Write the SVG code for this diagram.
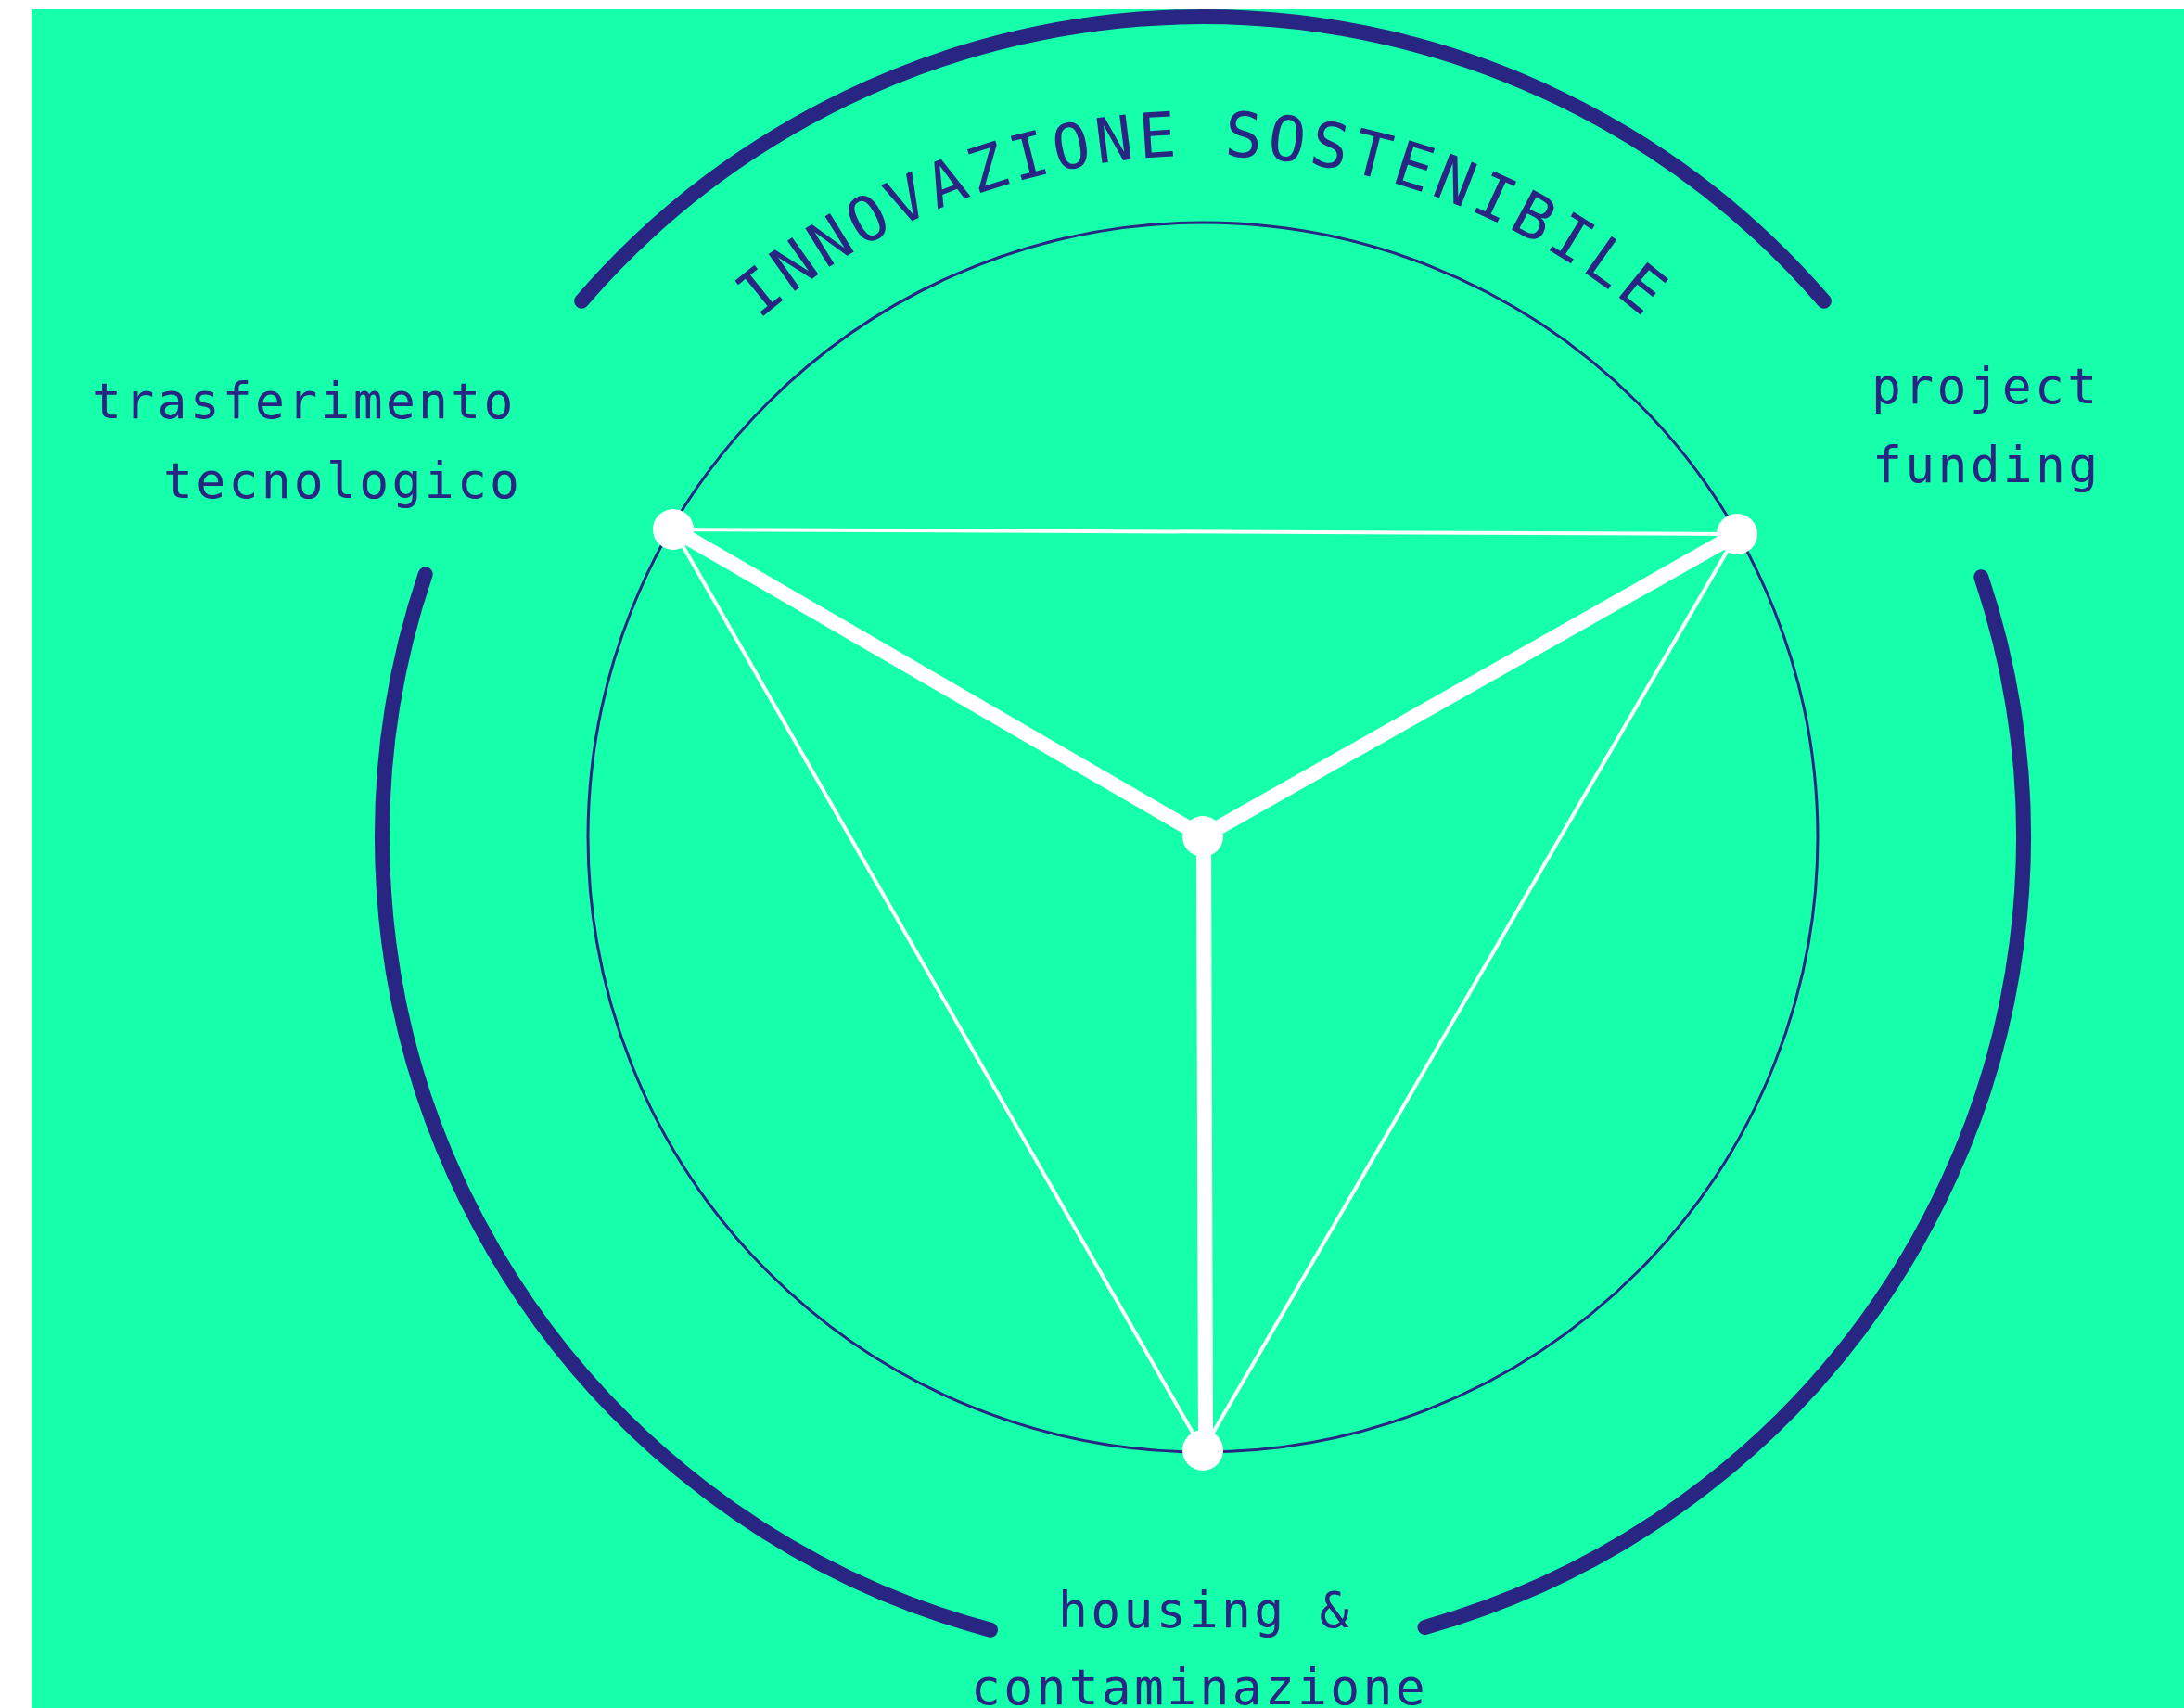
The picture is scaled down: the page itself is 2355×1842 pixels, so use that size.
<svg xmlns="http://www.w3.org/2000/svg" width="2355" height="1842" viewBox="0 0 2355 1842">
  <defs>
    <style>
      .bg { fill: #16FFAA; }
      .ring { fill: none; stroke: #292582; stroke-width: 16; stroke-linecap: round; }
      .inner { fill: none; stroke: #292582; stroke-width: 3; }
      .spoke { stroke: #FFFFFF; stroke-width: 16; stroke-linecap: round; }
      .edge { stroke: #FFFFFF; stroke-width: 4; }
      .node { fill: #FFFFFF; }
      .label { font-family: "DejaVu Sans Mono", "Liberation Mono", monospace; font-size: 53px; letter-spacing: 3.3px; fill: #292582; }
      .title { font-family: "DejaVu Sans Mono", "Liberation Mono", monospace; font-size: 67px; letter-spacing: 5px; fill: #292582; }
    </style>
    <path id="titlePath" d="M 562 903 A 735 735 0 0 1 2032 903"/>
  </defs>

  <rect class="bg" x="34" y="10" width="2321" height="1832"/>

  <g id="outer-rings">
    <path class="ring" d="M 627.1 324.7 A 885 885 0 0 1 1966.9 324.7"/>
    <path class="ring" d="M 1068 1757.8 A 885 885 0 0 1 458.7 619.3"/>
    <path class="ring" d="M 2136.3 622.2 A 885 885 0 0 1 1536.5 1755"/>
  </g>

  <circle class="inner" cx="1297" cy="903" r="663"/>

  <text class="title"><textPath href="#titlePath" startOffset="50%" text-anchor="middle">INNOVAZIONE SOSTENIBILE</textPath></text>

  <g id="connectors">
    <line class="edge" x1="726" y1="571" x2="1873" y2="576"/>
    <line class="edge" x1="726" y1="571" x2="1297" y2="1564"/>
    <line class="edge" x1="1873" y1="576" x2="1297" y2="1564"/>
    <line class="spoke" x1="1297" y1="902" x2="726" y2="571"/>
    <line class="spoke" x1="1297" y1="902" x2="1873" y2="576"/>
    <line class="spoke" x1="1298" y1="902" x2="1300" y2="1564"/>
  </g>

  <g id="node-center"><circle class="node" cx="1297" cy="902" r="22"/></g>
  <g id="node-left"><circle class="node" cx="726" cy="571" r="22"/></g>
  <g id="node-right"><circle class="node" cx="1873" cy="576" r="22"/></g>
  <g id="node-bottom"><circle class="node" cx="1297" cy="1564" r="22"/></g>

  <g id="label-left">
    <text class="label" x="99" y="451">trasferimento</text>
    <text class="label" x="176" y="537">tecnologico</text>
  </g>
  <g id="label-right">
    <text class="label" x="2018" y="435">project</text>
    <text class="label" x="2019" y="520">funding</text>
  </g>
  <g id="label-bottom">
    <text class="label" x="1141" y="1755">housing &amp;</text>
    <text class="label" x="1047" y="1838">contaminazione</text>
  </g>
</svg>
